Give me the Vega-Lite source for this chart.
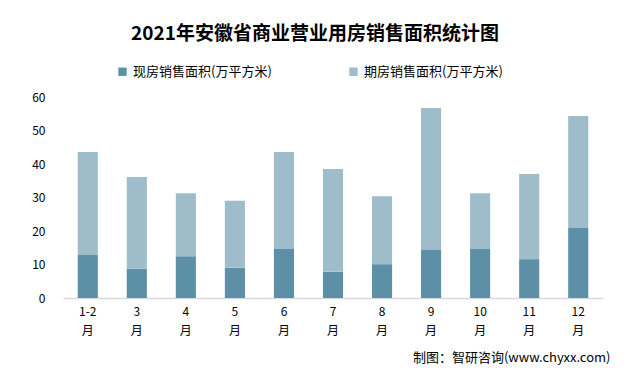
{
  "$schema": "https://vega.github.io/schema/vega-lite/v6.json",
  "width": 540,
  "height": 201,
  "autosize": "none",
  "padding": {"left": 63, "top": 97, "right": 40, "bottom": 80},
  "background": "white",
  "config": {"view": {"stroke": null}, "font": "Noto Sans CJK SC"},
  "title": {
    "text": "2021年安徽省商业营业用房销售面积统计图",
    "font": "Noto Sans CJK SC",
    "fontSize": 19,
    "fontWeight": "bold",
    "color": "#000000",
    "anchor": "middle",
    "dx": -18,
    "offset": 21
  },
  "data": {
    "values": [
      {"month": "1-2月", "type": "现房销售面积(万平方米)", "value": 12.8},
      {"month": "3月", "type": "现房销售面积(万平方米)", "value": 8.7},
      {"month": "4月", "type": "现房销售面积(万平方米)", "value": 12.5},
      {"month": "5月", "type": "现房销售面积(万平方米)", "value": 9.0},
      {"month": "6月", "type": "现房销售面积(万平方米)", "value": 14.6},
      {"month": "7月", "type": "现房销售面积(万平方米)", "value": 7.8},
      {"month": "8月", "type": "现房销售面积(万平方米)", "value": 10.1},
      {"month": "9月", "type": "现房销售面积(万平方米)", "value": 14.3},
      {"month": "10月", "type": "现房销售面积(万平方米)", "value": 14.6},
      {"month": "11月", "type": "现房销售面积(万平方米)", "value": 11.6},
      {"month": "12月", "type": "现房销售面积(万平方米)", "value": 20.9},
      {"month": "1-2月", "type": "期房销售面积(万平方米)", "value": 30.8},
      {"month": "3月", "type": "期房销售面积(万平方米)", "value": 27.4},
      {"month": "4月", "type": "期房销售面积(万平方米)", "value": 18.8},
      {"month": "5月", "type": "期房销售面积(万平方米)", "value": 20.0},
      {"month": "6月", "type": "期房销售面积(万平方米)", "value": 29.0},
      {"month": "7月", "type": "期房销售面积(万平方米)", "value": 30.7},
      {"month": "8月", "type": "期房销售面积(万平方米)", "value": 20.3},
      {"month": "9月", "type": "期房销售面积(万平方米)", "value": 42.4},
      {"month": "10月", "type": "期房销售面积(万平方米)", "value": 16.7},
      {"month": "11月", "type": "期房销售面积(万平方米)", "value": 25.4},
      {"month": "12月", "type": "期房销售面积(万平方米)", "value": 33.4}
    ]
  },
  "mark": {"type": "bar"},
  "encoding": {
    "x": {
      "field": "month",
      "type": "nominal",
      "sort": null,
      "scale": {"paddingInner": 0.59, "paddingOuter": 0.3},
      "axis": {
        "title": "制图：智研咨询(www.chyxx.com)",
        "titleFont": "Noto Sans CJK SC",
        "titleFontSize": 13,
        "titleFontWeight": "normal",
        "titleColor": "#000000",
        "titleAnchor": "end",
        "titleAlign": "right",
        "titleBaseline": "middle",
        "titleX": 547,
        "titleY": 59,
        "labelAngle": 0,
        "labelExpr": "[slice(datum.value, 0, -1), '月']",
        "labelLineHeight": 19,
        "labelFontSize": 12,
        "labelColor": "#000000",
        "labelPadding": 8,
        "labelBaseline": "top",
        "ticks": false,
        "domainColor": "#d9d9d9",
        "domainWidth": 1.5
      }
    },
    "y": {
      "field": "value",
      "type": "quantitative",
      "stack": "zero",
      "scale": {"domain": [0, 60]},
      "axis": {
        "title": null,
        "values": [0, 10, 20, 30, 40, 50, 60],
        "grid": false,
        "domain": false,
        "ticks": false,
        "labelFontSize": 12,
        "labelColor": "#000000",
        "labelPadding": 18
      }
    },
    "color": {
      "field": "type",
      "type": "nominal",
      "scale": {
        "domain": ["现房销售面积(万平方米)", "期房销售面积(万平方米)"],
        "range": ["#5d90a7", "#9ebcc9"]
      },
      "legend": {
        "title": null,
        "orient": "none",
        "legendX": 53,
        "legendY": -32,
        "direction": "horizontal",
        "symbolType": "square",
        "symbolSize": 70,
        "labelFontSize": 13,
        "labelColor": "#000000",
        "labelLimit": 300,
        "columnPadding": 75
      }
    },
    "order": {"field": "type", "sort": "descending"}
  }
}
